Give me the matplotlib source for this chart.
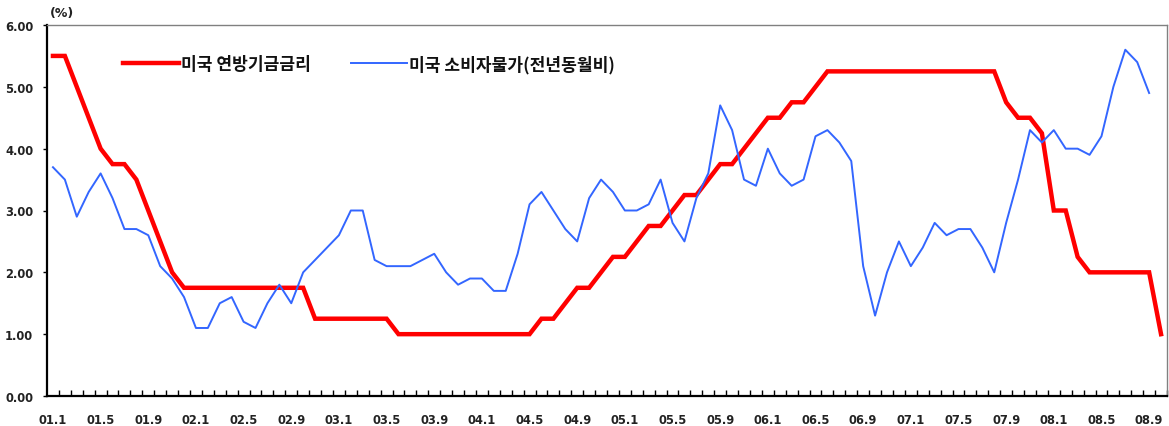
import matplotlib.pyplot as plt
from matplotlib.ticker import FixedLocator

plt.rcParams["font.family"] = ["DejaVu Sans"]

# 01.1 ~ 08.10, monthly
years = list(range(1, 9))
months = [f"{y:02d}.{m}" for y in years for m in range(1, 13)][:94]

fed_rate = [
    5.5, 5.5, 5.0, 4.5, 4.0, 3.75, 3.75, 3.5, 3.0, 2.5, 2.0, 1.75,
    1.75, 1.75, 1.75, 1.75, 1.75, 1.75, 1.75, 1.75, 1.75, 1.75, 1.25, 1.25,
    1.25, 1.25, 1.25, 1.25, 1.25, 1.0, 1.0, 1.0, 1.0, 1.0, 1.0, 1.0,
    1.0, 1.0, 1.0, 1.0, 1.0, 1.25, 1.25, 1.5, 1.75, 1.75, 2.0, 2.25,
    2.25, 2.5, 2.75, 2.75, 3.0, 3.25, 3.25, 3.5, 3.75, 3.75, 4.0, 4.25,
    4.5, 4.5, 4.75, 4.75, 5.0, 5.25, 5.25, 5.25, 5.25, 5.25, 5.25, 5.25,
    5.25, 5.25, 5.25, 5.25, 5.25, 5.25, 5.25, 5.25, 4.75, 4.5, 4.5, 4.25,
    3.0, 3.0, 2.25, 2.0, 2.0, 2.0, 2.0, 2.0, 2.0, 1.0,
]

cpi_yoy = [
    3.7, 3.5, 2.9, 3.3, 3.6, 3.2, 2.7, 2.7, 2.6, 2.1, 1.9, 1.6,
    1.1, 1.1, 1.5, 1.6, 1.2, 1.1, 1.5, 1.8, 1.5, 2.0, 2.2, 2.4,
    2.6, 3.0, 3.0, 2.2, 2.1, 2.1, 2.1, 2.2, 2.3, 2.0, 1.8, 1.9,
    1.9, 1.7, 1.7, 2.3, 3.1, 3.3, 3.0, 2.7, 2.5, 3.2, 3.5, 3.3,
    3.0, 3.0, 3.1, 3.5, 2.8, 2.5, 3.2, 3.6, 4.7, 4.3, 3.5, 3.4,
    4.0, 3.6, 3.4, 3.5, 4.2, 4.3, 4.1, 3.8, 2.1, 1.3, 2.0, 2.5,
    2.1, 2.4, 2.8, 2.6, 2.7, 2.7, 2.4, 2.0, 2.8, 3.5, 4.3, 4.1,
    4.3, 4.0, 4.0, 3.9, 4.2, 5.0, 5.6, 5.4, 4.9,
]

label_fed = "미국 연방기금금리"
label_cpi = "미국 소비자물가(전년동월비)"

fig = plt.figure(figsize=(11.69, 4.27), dpi=100)
ax = fig.add_axes([47 / 1169, 30 / 427, 1120 / 1169, 371 / 427])

x_fed = list(range(len(fed_rate)))
x_cpi = list(range(len(cpi_yoy)))
ax.plot(x_fed, fed_rate, color="#ff0000", lw=3.2, solid_joinstyle="miter", label=label_fed, zorder=3)
ax.plot(x_cpi, cpi_yoy, color="#3366ff", lw=1.4, solid_joinstyle="round", label=label_cpi, zorder=4)

ax.set_xlim(-0.5, len(months) - 0.5)
ax.set_ylim(0, 6)

# y axis
ax.set_yticks([0, 1, 2, 3, 4, 5, 6])
ax.set_yticklabels([f"{v:.2f}" for v in range(7)])
ax.tick_params(axis="y", direction="out", length=3, width=1, pad=7, labelsize=8.3)

# x axis: labels every 4 months, ticks between categories
major = list(range(0, len(months), 4))
ax.xaxis.set_major_locator(FixedLocator(major))
ax.set_xticklabels([months[i] for i in major])
ax.xaxis.set_minor_locator(FixedLocator([i + 0.5 for i in range(len(months))]))
ax.tick_params(axis="x", which="major", length=0, pad=12, labelsize=8.3)
ax.tick_params(axis="x", which="minor", direction="in", length=4, width=1)
for lbl in ax.get_xticklabels() + ax.get_yticklabels():
    lbl.set_fontweight("bold")
    lbl.set_color("#222222")

for side in ("left", "bottom"):
    ax.spines[side].set_linewidth(1.6)
    ax.spines[side].set_color("black")
for side in ("top", "right"):
    ax.spines[side].set_linewidth(1.0)
    ax.spines[side].set_color("#808080")

leg = ax.legend(
    loc="center left", bbox_to_anchor=(76 / 1120, 0.895), ncol=2, frameon=False,
    borderpad=0, borderaxespad=0, handlelength=3.3, handletextpad=0.12,
    columnspacing=2.3, prop={"family": ["Noto Sans CJK KR"], "weight": "bold", "size": 12.3},
)
for t in leg.get_texts():
    t.set_color("#111111")

fig.text(62 / 1169, 1 - 14 / 427, "(%)", ha="center", va="center", fontsize=9,
         fontweight="bold", color="#222222")

fig.savefig("out.png", dpi=100)
